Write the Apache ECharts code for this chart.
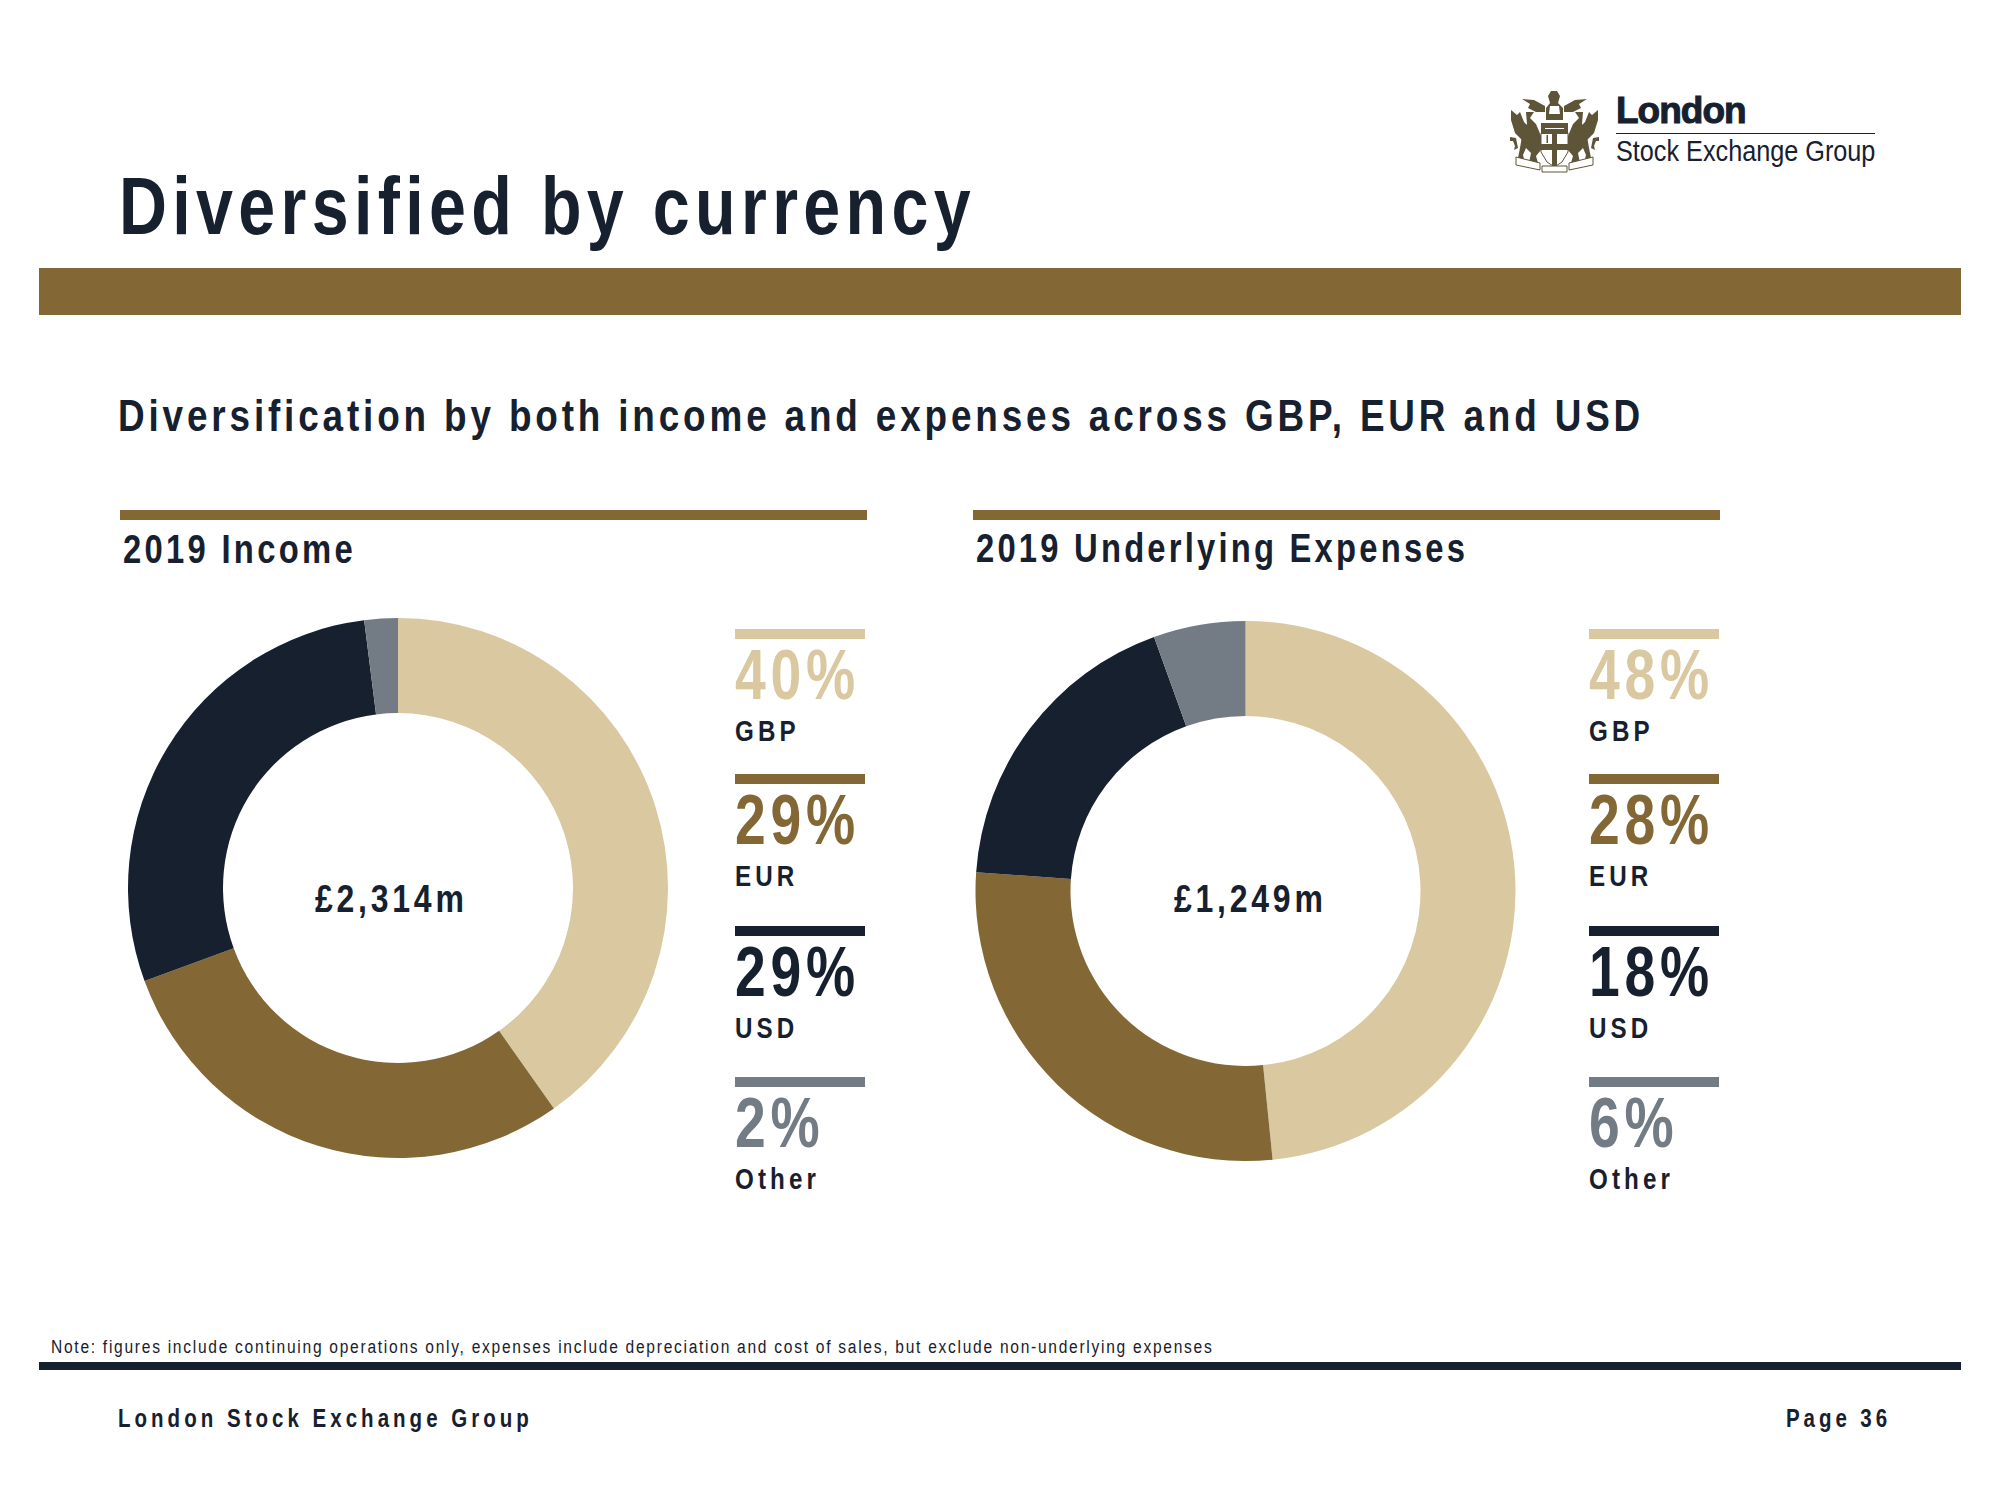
<!DOCTYPE html>
<html><head><meta charset="utf-8">
<style>
html,body{margin:0;padding:0;background:#fff}
#c{width:2000px;height:1500px}
</style>
<script src="https://cdn.jsdelivr.net/npm/echarts@6/dist/echarts.min.js"></script>
</head><body><div id="c"></div>
<script>
const categories = ['GBP','EUR','USD','Other'];
const incomeShares = [40.2,29.2,28.6,2.0];
const expenseShares = [48.4,27.7,18.4,5.5];
const incomeTotal = '£2,314m';
const expenseTotal = '£1,249m';
const colors = ['#D9C8A0','#836836','#17202E','#737B85'];
const NAVY='#17202E', GOLD='#836836', CREST='#5E5538';
const FONT='"Liberation Sans",Arial,sans-serif';
const NARROW=0.82;

const g=[], spacing=[];
function rect(x,y,w,h,fill){g.push({type:'rect',shape:{x,y,width:w,height:h},style:{fill},silent:true});}
function poly(points,fill,stroke){g.push({type:'polygon',shape:{points},style:stroke?{fill,stroke,lineWidth:1}:{fill},silent:true});}
// a shape on the crest's left, and its mirror image on the right
function both(points,fill,stroke){poly(points,fill,stroke);poly(points.map(p=>[3109-p[0],p[1]]),fill,stroke);}
function txt(x,base,s,size,fill,ls,weight,scale,stroke){
  spacing.push([s,ls||0]);
  const style={text:s,font:(weight||'bold')+' '+size+'px '+FONT,fill,align:'left',verticalAlign:'middle'};
  if(stroke){style.stroke=fill;style.lineWidth=stroke;}
  g.push({type:'text',x,y:base-0.3465*size,scaleX:scale||NARROW,silent:true,style});
}
// page furniture
rect(39,268,1922,47,GOLD);
rect(39,1362,1922,8,NAVY);
txt(119,234,'Diversified by currency',81,NAVY,6.5);
txt(118,431,'Diversification by both income and expenses across GBP, EUR and USD',45,NAVY,4.7);
rect(120,510,747,10,GOLD);
rect(973,510,747,10,GOLD);
txt(123,563,'2019 Income',40,NAVY,4);
txt(976,562,'2019 Underlying Expenses',40,NAVY,3.9);
txt(51,1353,'Note: figures include continuing operations only, expenses include depreciation and cost of sales, but exclude non-underlying expenses',19,NAVY,2.1,'normal');
txt(118,1427,'London Stock Exchange Group',25,NAVY,4.9);
txt(1786,1427,'Page 36',25,NAVY,4.8);
txt(315,912,incomeTotal,39,NAVY,4.6);
txt(1174,912,expenseTotal,39,NAVY,4.6);
// per-currency key
const barTops=[629,774,926,1077];
function key(x,shares){
  categories.forEach((c,i)=>{
    const t=barTops[i];
    rect(x,t,130,10,colors[i]);
    txt(x,t+70,Math.round(shares[i])+'%',70,colors[i],6,'bold',0.79);
    txt(x,t+112,c,29.5,NAVY,5);
  });
}
key(735,incomeShares);
key(1589,expenseShares);
// logo
txt(1616,123,'London',37,NAVY,-1,'bold',1,1);
rect(1616,133,259,1,NAVY);
txt(1616,161,'Stock Exchange Group',29,NAVY,0,'normal',0.87);
// crest, simplified
both([[1511,110],[1517,115],[1520,112],[1524,122],[1527,125],[1528,137],[1522,140],[1515,133],[1511,120]],CREST);
both([[1526,112],[1534,112],[1530,118],[1536,124],[1541,136],[1541,150],[1536,156],[1538,163],[1529,163],[1531,153],[1526,148],[1523,155],[1525,163],[1517,163],[1520,148],[1522,136],[1527,124]],CREST);
both([[1510,137],[1516,138],[1518,148],[1514,150],[1515,146],[1513,141],[1510,141]],CREST);
both([[1522,99],[1534,100],[1545,106],[1545,112],[1536,112],[1528,108],[1530,104]],CREST);
poly([[1546,120],[1546,108],[1550,103],[1548,96],[1551,91],[1557,91],[1560,96],[1558,103],[1563,108],[1563,120]],CREST);
poly([[1550,106],[1559,106],[1560,114],[1549,114]],'#fff');
poly([[1541,133],[1568,133],[1568,152],[1562,162],[1554.5,167],[1547,162],[1541,152]],'#fff',CREST);
rect(1541,123,27,11,CREST);
rect(1545,128,19,1,'#fff');
rect(1552,134,5,32,CREST);
rect(1541,144,27,6,CREST);
rect(1546.5,135,1.5,8,CREST);
both([[1516,157],[1540,163],[1540,170],[1516,165]],'#fff',CREST);
poly([[1542,166],[1567,166],[1567,172],[1542,172]],'#fff',CREST);

function pie(center,shares){
  return {type:'pie',silent:true,animation:false,center,radius:[175,270],startAngle:90,clockwise:true,
    label:{show:false},labelLine:{show:false},
    itemStyle:{borderWidth:0},
    data:categories.map((c,i)=>({name:c,value:shares[i],itemStyle:{color:colors[i]}}))};
}
const chart=echarts.init(document.getElementById('c'),null,{renderer:'svg',width:2000,height:1500});
chart.setOption({backgroundColor:'#fff',animation:false,
  series:[pie([398,888],incomeShares),pie([1245.5,891],expenseShares)],
  graphic:{elements:g}});
// tracking: the SVG text nodes take letter-spacing directly
const tracking=new Map(spacing);
document.querySelectorAll('#c text').forEach(t=>{
  const v=tracking.get(t.textContent);
  if(v) t.style.letterSpacing=v+'px';
});
</script></body></html>
